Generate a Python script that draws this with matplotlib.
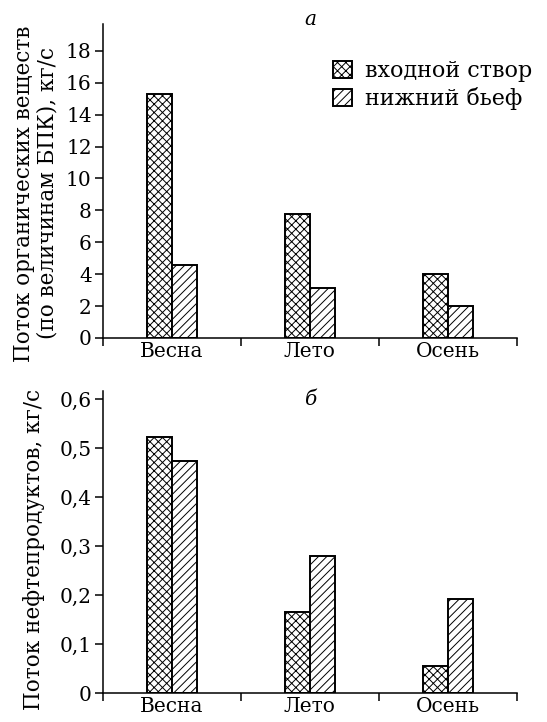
#!/usr/bin/env python3
"""Organic matter and oil product fluxes by season, two hatched bar panels."""

import matplotlib
matplotlib.use("Agg")
import matplotlib.pyplot as plt
import numpy as np
from matplotlib.patches import Patch

SEASONS = ["Весна", "Лето", "Осень"]
SERIES = ["входной створ", "нижний бьеф"]

ORGANIC_INLET = [15.3, 7.8, 4.0]
ORGANIC_TAILWATER = [4.55, 3.1, 2.0]

OIL_INLET = [0.523, 0.165, 0.055]
OIL_TAILWATER = [0.473, 0.280, 0.193]

ORGANIC_TICKS = [0, 2, 4, 6, 8, 10, 12, 14, 16, 18]
OIL_TICKS = [0, 0.1, 0.2, 0.3, 0.4, 0.5, 0.6]
OIL_TICK_LABELS = ["0", "0,1", "0,2", "0,3", "0,4", "0,5", "0,6"]

plt.rcParams["font.family"] = ["DejaVu Serif"]
plt.rcParams["hatch.linewidth"] = 0.7

FONT = 14.5
LABEL_FONT = 15.5
LEGEND_FONT = 16.0
BAR_W = 0.18
HATCHES = ["xxxx", "////"]


def draw_panel(ax, inlet, tailwater, ylim, yticks, yticklabels, ylabel, letter, letter_y,
               label_xy):
    x = np.arange(len(SEASONS)) + 0.5
    for offset, values, hatch in zip([-BAR_W / 2, BAR_W / 2], [inlet, tailwater], HATCHES):
        ax.bar(x + offset, values, width=BAR_W, facecolor="white", edgecolor="black",
               linewidth=1.4, hatch=hatch, zorder=2)
    ax.set_xlim(0, 3)
    ax.set_ylim(0, ylim)
    ax.set_xticks([0, 1, 2, 3])
    ax.set_xticklabels([])
    ax.set_xticks(x, minor=True)
    ax.set_xticklabels(SEASONS, minor=True, fontsize=FONT)
    ax.tick_params(axis="x", which="minor", length=0, pad=3)
    ax.tick_params(axis="x", which="major", length=6, width=1.1, direction="out")
    ax.set_yticks(yticks)
    ax.set_yticklabels(yticklabels, fontsize=FONT)
    ax.tick_params(axis="y", length=6, width=1.1, direction="out", pad=2)
    for spine in ["top", "right"]:
        ax.spines[spine].set_visible(False)
    ax.spines["left"].set_linewidth(1.1)
    ax.spines["bottom"].set_linewidth(1.1)
    ax.set_ylabel(ylabel, fontsize=LABEL_FONT, linespacing=1.05)
    ax.yaxis.set_label_coords(*label_xy)
    ax.text(1.5, letter_y, letter, fontsize=FONT, style="italic", ha="center", va="center",
            transform=ax.transData)


fig = plt.figure(figsize=(5.47, 7.22), dpi=100)
ax_top = fig.add_axes([0.188, 0.532, 0.757, 0.435])
ax_bot = fig.add_axes([0.188, 0.040, 0.757, 0.418])

draw_panel(ax_top, ORGANIC_INLET, ORGANIC_TAILWATER, 19.7, ORGANIC_TICKS,
           [str(t) for t in ORGANIC_TICKS],
           "Поток органических веществ\n(по величинам БПК), кг/с", "а", 20.0,
           (-0.108, 0.46))
draw_panel(ax_bot, OIL_INLET, OIL_TAILWATER, 0.616, OIL_TICKS, OIL_TICK_LABELS,
           "Поток нефтепродуктов, кг/с", "б", 0.6, (-0.14, 0.475))

handles = [Patch(facecolor="white", edgecolor="black", hatch=h, linewidth=1.4, label=s)
           for h, s in zip(HATCHES, SERIES)]
ax_top.legend(handles=handles, loc="upper left", bbox_to_anchor=(0.556, 0.885), frameon=False,
              fontsize=LEGEND_FONT, handlelength=0.85, handleheight=0.8, handletextpad=0.6,
              labelspacing=0.25, borderaxespad=0, borderpad=0)

fig.savefig("out.png", dpi=100)
